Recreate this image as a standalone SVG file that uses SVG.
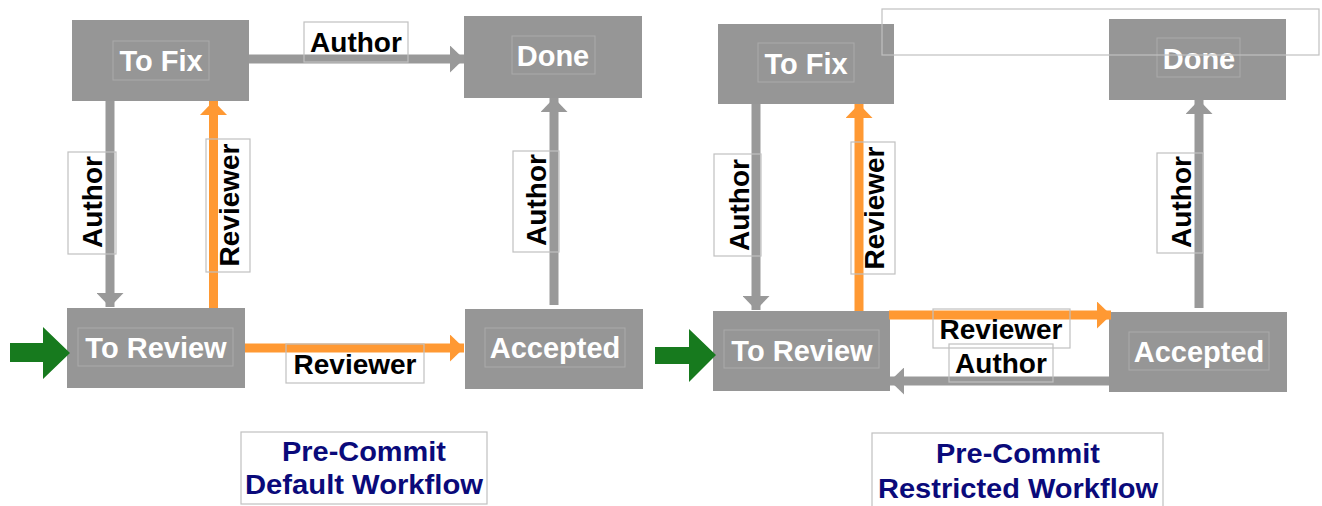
<svg xmlns="http://www.w3.org/2000/svg" width="1322" height="506" viewBox="0 0 1322 506">
<style>
.box{fill:#969696;}
.inner{fill:none;stroke:#aaaaaa;stroke-width:1;}
.ntext{font-family:"Liberation Sans",Arial,sans-serif;font-weight:bold;font-size:29px;fill:#ffffff;text-anchor:middle;}
.lbox{fill:none;stroke:#c0c0c0;stroke-width:1.2;}
.ltext{font-family:"Liberation Sans",Arial,sans-serif;font-weight:bold;font-size:28px;fill:#000000;text-anchor:middle;}
.gray{fill:none;stroke:#999999;stroke-width:9;}
.orange{fill:none;stroke:#ff9933;stroke-width:9;}
.title{font-family:"Liberation Sans",Arial,sans-serif;font-weight:bold;font-size:27px;fill:#0a0a7a;text-anchor:middle;}
.start{fill:#177a1e;}
</style>
<defs>
<marker id="hg" markerUnits="userSpaceOnUse" markerWidth="14" markerHeight="27" refX="14" refY="13.5" orient="auto"><path d="M0,0 L14,13.5 L0,27 z" fill="#999999"/></marker>
<marker id="ho" markerUnits="userSpaceOnUse" markerWidth="14" markerHeight="27" refX="14" refY="13.5" orient="auto"><path d="M0,0 L14,13.5 L0,27 z" fill="#ff9933"/></marker>
</defs>

<!-- Left diagram nodes -->
<g id="l-tofix"><rect class="box" x="72" y="20" width="177" height="81"/><rect class="inner" x="113" y="41" width="96" height="39"/><text class="ntext" x="161" y="71">To Fix</text></g>
<g id="l-done"><rect class="box" x="464" y="16" width="178" height="82"/><rect class="inner" x="512" y="36" width="83" height="38"/><text class="ntext" x="553" y="66">Done</text></g>
<g id="l-toreview"><rect class="box" x="67" y="308" width="178" height="80"/><rect class="inner" x="78" y="328" width="155" height="38"/><text class="ntext" x="156" y="358">To Review</text></g>
<g id="l-accepted"><rect class="box" x="465" y="309" width="178" height="80"/><rect class="inner" x="485" y="328" width="140" height="39"/><text class="ntext" x="555" y="358">Accepted</text></g>
<g id="l-start"><polygon class="start" points="10,343 43,343 43,327 70,353 43,379 43,362 10,362"/></g>
<g id="l-title"><rect class="lbox" x="241" y="432" width="246" height="72"/><text class="title" x="364" y="461" textLength="164" lengthAdjust="spacingAndGlyphs">Pre-Commit</text><text class="title" x="364" y="494" textLength="238" lengthAdjust="spacingAndGlyphs">Default Workflow</text></g>

<!-- Right diagram nodes -->
<g id="r-tofix"><rect class="box" x="718" y="24" width="176" height="80"/><rect class="inner" x="758" y="43" width="96" height="39"/><text class="ntext" x="806" y="74">To Fix</text></g>
<g id="r-done"><rect class="box" x="1109" y="19" width="177" height="81"/><rect class="inner" x="1157" y="38" width="83" height="39"/><text class="ntext" x="1199" y="69">Done</text></g>
<g id="r-toreview"><rect class="box" x="713" y="311" width="177" height="80"/><rect class="inner" x="724" y="330" width="155" height="38"/><text class="ntext" x="802" y="361">To Review</text></g>
<g id="r-accepted"><rect class="box" x="1109" y="312" width="178" height="80"/><rect class="inner" x="1129" y="332" width="140" height="38"/><text class="ntext" x="1199" y="362">Accepted</text></g>
<g id="r-start"><polygon class="start" points="655,347 689,347 689,329 716,355 689,382 689,364 655,364"/></g>
<g id="r-title"><rect class="lbox" x="872" y="433" width="291" height="80"/><text class="title" x="1018" y="463" textLength="164" lengthAdjust="spacingAndGlyphs">Pre-Commit</text><text class="title" x="1018" y="498" textLength="280" lengthAdjust="spacingAndGlyphs">Restricted Workflow</text></g>

<!-- Connectors -->
<g id="connectors">
<path class="gray" d="M249,59 L464,59" marker-end="url(#hg)"/>
<path class="gray" d="M110,101 L110,307" marker-end="url(#hg)"/>
<path class="orange" d="M213.5,308 L213.5,101" marker-end="url(#ho)"/>
<path class="orange" d="M245,348 L464,348" marker-end="url(#ho)"/>
<path class="gray" d="M554,305 L554,98" marker-end="url(#hg)"/>

<path class="gray" d="M756,104 L756,310" marker-end="url(#hg)"/>
<path class="orange" d="M859,311 L859,104" marker-end="url(#ho)"/>
<path class="orange" d="M889,315 L1111,315" marker-end="url(#ho)"/>
<path class="gray" d="M1109,381 L890,381" marker-end="url(#hg)"/>
<path class="gray" d="M1199,308 L1199,100" marker-end="url(#hg)"/>

<rect class="lbox" x="304" y="22" width="104" height="40"/><text class="ltext" x="356" y="52">Author</text>
<rect class="lbox" x="68" y="152" width="48" height="102"/><text class="ltext" transform="translate(102,202) rotate(-90)">Author</text>
<rect class="lbox" x="206" y="139" width="44" height="133"/><text class="ltext" transform="translate(239,205) rotate(-90)">Reviewer</text>
<rect class="lbox" x="286" y="344" width="138" height="39"/><text class="ltext" x="355" y="374">Reviewer</text>
<rect class="lbox" x="513" y="151" width="46" height="101"/><text class="ltext" transform="translate(546,200) rotate(-90)">Author</text>

<rect class="lbox" x="714" y="154" width="47" height="102"/><text class="ltext" transform="translate(749,205) rotate(-90)">Author</text>
<rect class="lbox" x="851" y="142" width="44" height="132"/><text class="ltext" transform="translate(884,208) rotate(-90)">Reviewer</text>
<rect class="lbox" x="1157" y="153" width="46" height="100"/><text class="ltext" transform="translate(1191,202) rotate(-90)">Author</text>
<rect class="lbox" x="933" y="309" width="137" height="39"/><text class="ltext" x="1001" y="339">Reviewer</text>
<rect class="lbox" x="949" y="344" width="104" height="38"/><text class="ltext" x="1001" y="373">Author</text>
</g>

<g id="r-frame"><rect class="lbox" x="882" y="9" width="437" height="46"/></g>
</svg>
